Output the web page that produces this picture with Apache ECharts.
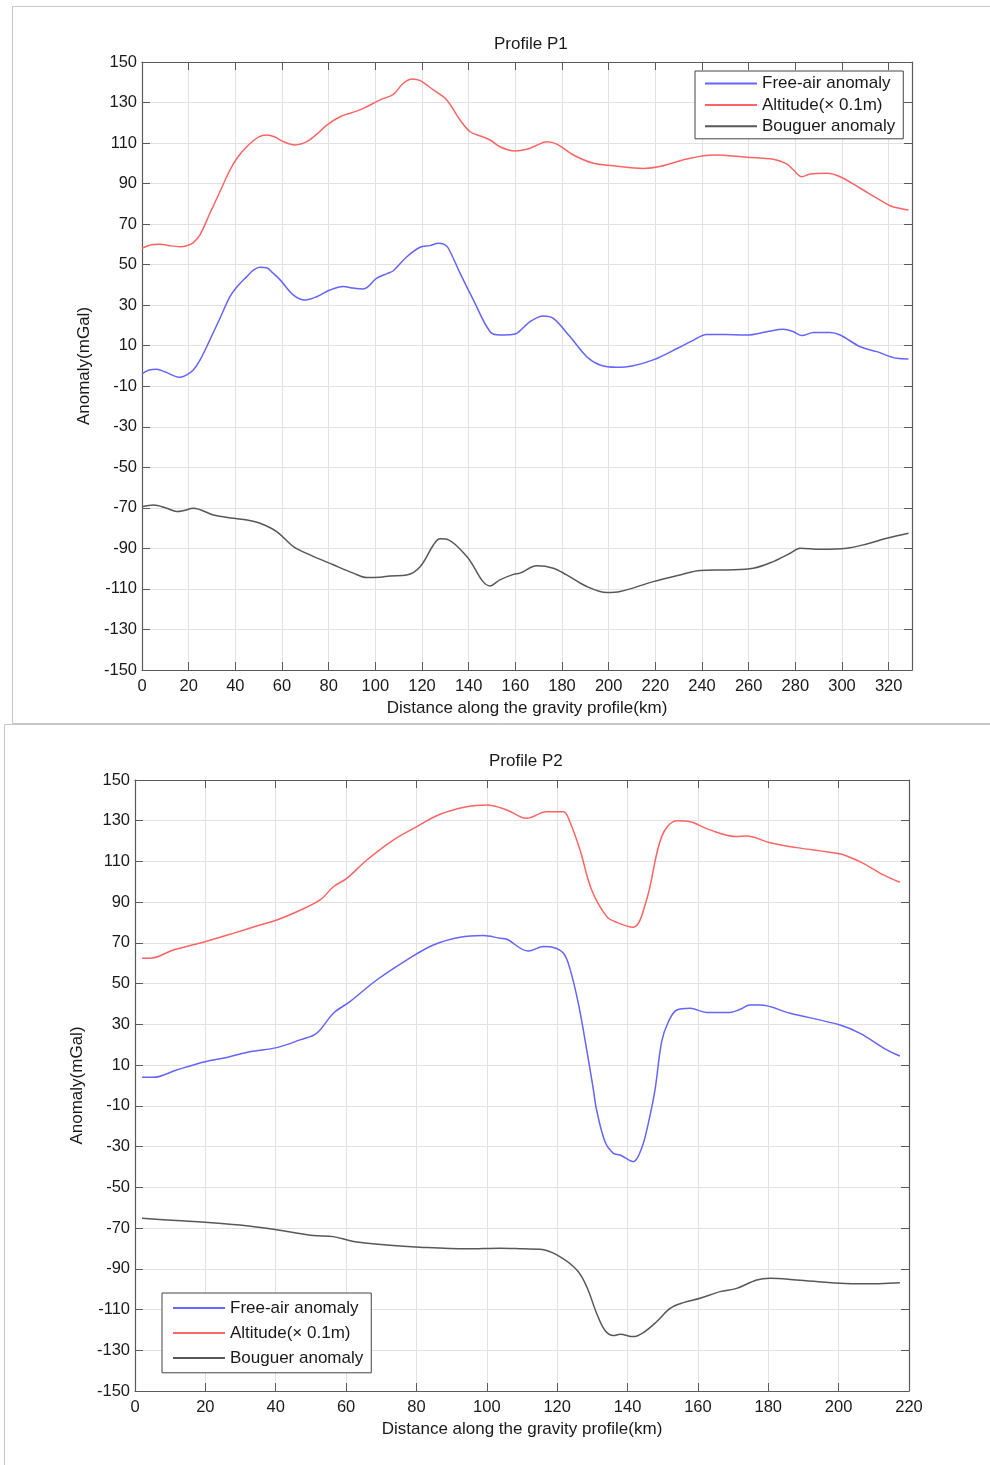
<!DOCTYPE html>
<html>
<head>
<meta charset="utf-8">
<script src="https://cdn.jsdelivr.net/npm/echarts@6/dist/echarts.min.js"></script>
<style>
html,body{margin:0;padding:0;background:#fff;}
#c{width:990px;height:1465px;}
</style>
</head>
<body>
<div id="c"></div>
<script>
// ---- Data (distance km, value) ----
const seriesNames = ['Free-air anomaly', 'Altitude(\u00d7 0.1m)', 'Bouguer anomaly'];
const titles = ['Profile P1', 'Profile P2'];
const xAxisName = 'Distance along the gravity profile(km)';
const yAxisName = 'Anomaly(mGal)';

const p1FreeAir = [[0,-3.9],[3,-2],[6.3,-1.6],[10,-3],[16.3,-5.6],[19,-4.5],[22,-2],[24.9,3],[29.1,12.9],[33,22.5],[37.7,34.2],[41,39.5],[44.9,44.1],[48,47.5],[50.6,48.7],[53.4,48.5],[56,46],[59.2,42.5],[64.9,35],[69.9,32.6],[74.9,34.2],[80.6,37.5],[86.3,39.2],[90,38.5],[94.9,38],[100.6,43.3],[105,45.6],[107.7,47],[113.5,53.9],[119.2,58.6],[123.4,59.4],[127,60.6],[129.5,60],[131.3,58.1],[136.3,45.8],[142,32.6],[149.2,16.9],[153.4,15.3],[157,15.4],[160.6,16.1],[166.3,21.9],[172,24.7],[176.3,23.5],[183.4,14.5],[190.6,4.6],[196.3,0.5],[203.4,-0.6],[210,0],[219.1,3],[230,9],[236,12.5],[242,15.6],[250,15.5],[259.2,15.3],[267.8,16.9],[274.9,18.1],[279.2,16.9],[282.8,15],[287.8,16.5],[294.9,16.5],[299.2,15.3],[307.8,9.5],[314.9,7.1],[323.5,3.8],[328.5,3.5]];
const p1Altitude = [[0,58.1],[4,59.8],[7.7,60.1],[12,59.3],[16.3,58.9],[19.5,59.5],[22,60.9],[25,65],[29.1,75.4],[33,85],[37.7,96.7],[41,103],[44.9,108.2],[49.9,112.9],[53.4,114],[57,113],[60.6,110.7],[65.6,109.1],[70.6,110.7],[75,114.5],[79.2,118.9],[84.9,123],[90,125],[94.9,127.1],[102,131.3],[107.7,134],[112,139.5],[115.9,141.6],[119.2,140.8],[124.9,136.2],[130.6,131.3],[136.3,121.4],[140.6,115.6],[145,113.5],[149.2,111.5],[153.4,108.2],[159.9,106.1],[164.9,106.9],[169,108.8],[173.5,110.7],[177.8,109.5],[184.9,104.1],[193.5,100],[202,98.8],[214.9,97.5],[222,98.4],[233.5,102.1],[244.9,104.1],[259.2,103],[270.6,102],[276.3,99.7],[279.2,96.7],[282.8,93.4],[286.3,94.7],[293.5,95.1],[299.2,93.4],[307.8,87.7],[314.9,82.8],[320.6,79.1],[325,77.7],[328.5,77]];
const p1Bouguer = [[0,-69.4],[4.9,-68.6],[10.6,-70.2],[14.9,-71.8],[18,-71.3],[22,-70.2],[30.6,-73.5],[39.1,-75.1],[45,-76],[50.6,-77.6],[57.7,-81.7],[64.9,-89.1],[72,-93.2],[82,-98.1],[90.6,-102.2],[96.3,-104.4],[102,-104.2],[106.3,-103.6],[113.5,-103.1],[119.2,-99],[124.9,-88.3],[127.7,-85.3],[131.3,-85.8],[139.2,-94],[149.2,-108.5],[153.4,-105.5],[159.2,-102.8],[162,-102.2],[169.2,-98.6],[176.3,-99.8],[182,-103.1],[190.6,-108.8],[199.2,-111.8],[204.9,-111.3],[219.1,-106.4],[230.6,-103.1],[239.2,-100.9],[250.6,-100.6],[262,-99.8],[270.6,-96.5],[277.8,-92.4],[282,-89.9],[290.6,-90.4],[302,-89.9],[310.6,-87.8],[319.2,-85],[328.5,-82.5]];

const p2FreeAir = [[2,4],[5.2,4],[11.8,7.6],[19.9,11.7],[26.1,13.8],[32.7,16.6],[40.3,18.6],[46.9,22.4],[51.6,25.6],[56.4,35.5],[61.1,41.2],[68.7,51.8],[77.2,61.6],[84.8,69],[92.4,72.8],[99,73.6],[103.8,72.3],[105.7,71.8],[111.8,66],[116.1,68.2],[118.9,67.8],[121.8,64.9],[123.6,57.5],[126,40.4],[128.4,17.5],[130.3,-2.2],[131.2,-12],[133.6,-27.6],[136,-33.3],[137.9,-34.1],[141.6,-37.4],[144,-30.8],[145.9,-18.6],[147.8,-2.2],[149.7,21.5],[151.6,31.3],[154,37.1],[157.8,37.9],[162.5,35.9],[169.1,35.9],[172,37.4],[174.8,39.5],[177.7,39.5],[186.2,35.5],[200.4,29.7],[206.1,25.6],[213.7,17.5],[217.4,14.5]];
const p2Altitude = [[2,62.5],[4.3,62.5],[10.9,66.5],[19.9,70.6],[27.9,74.7],[35.5,78.8],[40.3,81.3],[46,85.3],[52.6,91.1],[56.4,97.6],[60.2,101.7],[65.9,110.7],[73.4,120.5],[80.1,127.1],[86.7,133.2],[94.3,136.9],[100,137.7],[105.7,135.3],[111.3,131.2],[117,134.4],[121.8,134.4],[123.6,129.5],[126.5,115.6],[129.8,96],[134.1,82.9],[136.9,80.1],[141.6,77.7],[145.4,91.1],[149.7,122.2],[154,130],[157.8,129.5],[163.4,125.5],[171,122.2],[173.9,122.5],[180.5,119.2],[188.1,116.8],[199.5,114],[202.3,112.7],[207,109.1],[212.7,103.4],[217.4,99.8]];
const p2Bouguer = [[2,-65.2],[11.8,-66.3],[19.9,-67.1],[29.8,-68.5],[37.4,-70.1],[45,-72.2],[50.7,-73.7],[56.4,-74.2],[62.1,-76.6],[71.5,-78.3],[81,-79.4],[94.3,-80.2],[103.8,-79.9],[110.4,-80.2],[115.1,-80.4],[119.9,-83.2],[125.6,-90.6],[128.4,-98.8],[131.2,-111.8],[133.6,-120.3],[136,-122.8],[137.9,-122.1],[141.6,-123.3],[144.5,-121.3],[148.3,-115.9],[152.1,-109.4],[155.9,-106.6],[160.6,-104.5],[166.3,-101.2],[171,-99.6],[176.7,-95.5],[180.5,-94.6],[188.1,-95.5],[200.4,-97.1],[207,-97.4],[217.4,-96.8]];

const xRanges = [[0, 330], [0, 220]];
const yRange = [-150, 150];
const tickStep = 20;

// ---- Styling ----
const FONT = 'Liberation Sans, Arial, Helvetica, sans-serif';
const colors = ['#6464ff', '#ff6464', '#585858'];
const axisColor = '#5a5a5a';
const gridColor = '#e2e2e2';
const textColor = '#1a1a1a';
const TICK_FS = 16.5;
const TEXT_FS = 17;

const grids = [
  {left: 142, top: 62, width: 770, height: 608},
  {left: 135, top: 780, width: 774, height: 611}
];

function mainX(gi) {
  return {
    type: 'value', gridIndex: gi, position: 'bottom',
    min: xRanges[gi][0], max: xRanges[gi][1], interval: tickStep,
    name: xAxisName, nameLocation: 'middle', nameGap: 30,
    nameTextStyle: {fontFamily: FONT, fontSize: TEXT_FS, color: textColor},
    axisLine: {show: true, onZero: false, lineStyle: {color: axisColor, width: 1.2}},
    axisTick: {show: true, inside: true, length: 8, lineStyle: {color: axisColor}},
    axisLabel: {fontFamily: FONT, fontSize: TICK_FS, color: textColor, margin: 8,
      formatter: v => (Math.round(v) % tickStep === 0 ? String(v) : '')},
    splitLine: {show: true, lineStyle: {color: gridColor, width: 1}}
  };
}
function sideX(gi) {
  return {
    type: 'value', gridIndex: gi, position: 'top',
    min: xRanges[gi][0], max: xRanges[gi][1], interval: tickStep,
    axisLine: {show: true, onZero: false, lineStyle: {color: axisColor, width: 1.2}},
    axisTick: {show: true, inside: true, length: 8, lineStyle: {color: axisColor}},
    axisLabel: {show: false}, splitLine: {show: false}
  };
}
function mainY(gi) {
  return {
    type: 'value', gridIndex: gi, position: 'left',
    min: yRange[0], max: yRange[1], interval: tickStep,
    name: yAxisName, nameLocation: 'middle', nameGap: 46, nameRotate: 90,
    nameTextStyle: {fontFamily: FONT, fontSize: TEXT_FS, color: textColor},
    axisLine: {show: true, onZero: false, lineStyle: {color: axisColor, width: 1.2}},
    axisTick: {show: true, inside: true, length: 8, lineStyle: {color: axisColor}},
    axisLabel: {fontFamily: FONT, fontSize: TICK_FS, color: textColor, margin: 5},
    splitLine: {show: true, lineStyle: {color: gridColor, width: 1}}
  };
}
function sideY(gi) {
  return {
    type: 'value', gridIndex: gi, position: 'right',
    min: yRange[0], max: yRange[1], interval: tickStep,
    axisLine: {show: true, onZero: false, lineStyle: {color: axisColor, width: 1.2}},
    axisTick: {show: true, inside: true, length: 8, lineStyle: {color: axisColor}},
    axisLabel: {show: false}, splitLine: {show: false}
  };
}

function line(name, data, color, xi, yi) {
  return {
    type: 'line', name: name, data: data, xAxisIndex: xi, yAxisIndex: yi,
    symbol: 'none', smooth: 0.35,
    lineStyle: {color: color, width: 1.5}, itemStyle: {color: color},
    emphasis: {disabled: true}, animation: false
  };
}

const legendCommon = {
  orient: 'vertical', itemWidth: 52, itemHeight: 14,
  backgroundColor: '#fff', borderColor: '#444', borderWidth: 1,
  textStyle: {fontFamily: FONT, fontSize: TEXT_FS, color: textColor},
  data: seriesNames.map((n, i) => ({name: n, icon: 'path://M0,0 L52,0 L52,2 L0,2 Z', itemStyle: {color: colors[i]}})),
  selectedMode: false
};

const option = {
  backgroundColor: '#fff',
  animation: false,
  title: [
    {text: titles[0], left: 489, top: 31,
      textStyle: {fontFamily: FONT, fontSize: TEXT_FS, fontWeight: 'normal', color: textColor}},
    {text: titles[1], left: 484, top: 748,
      textStyle: {fontFamily: FONT, fontSize: TEXT_FS, fontWeight: 'normal', color: textColor}}
  ],
  grid: grids,
  xAxis: [mainX(0), sideX(0), mainX(1), sideX(1)],
  yAxis: [mainY(0), sideY(0), mainY(1), sideY(1)],
  legend: [
    Object.assign({}, legendCommon, {left: 695, top: 71, padding: [4, 8, 4, 10], itemGap: 4.4}),
    Object.assign({}, legendCommon, {left: 162, top: 1293, padding: [6.4, 8, 6.4, 11], itemGap: 8})
  ],
  graphic: [
    {type: 'rect', silent: true, z: -10, shape: {x: 12.5, y: 6.5, width: 1000, height: 717},
      style: {fill: 'none', stroke: '#c6c6c6', lineWidth: 1}},
    {type: 'rect', silent: true, z: -10, shape: {x: 4.5, y: 724.5, width: 1000, height: 800},
      style: {fill: 'none', stroke: '#c6c6c6', lineWidth: 1}}
  ],
  series: [
    line(seriesNames[0], p1FreeAir, colors[0], 0, 0),
    line(seriesNames[1], p1Altitude, colors[1], 0, 0),
    line(seriesNames[2], p1Bouguer, colors[2], 0, 0),
    line(seriesNames[0], p2FreeAir, colors[0], 2, 2),
    line(seriesNames[1], p2Altitude, colors[1], 2, 2),
    line(seriesNames[2], p2Bouguer, colors[2], 2, 2)
  ]
};

const chart = echarts.init(document.getElementById('c'), null, {renderer: 'canvas'});
chart.setOption(option);
</script>
</body>
</html>
